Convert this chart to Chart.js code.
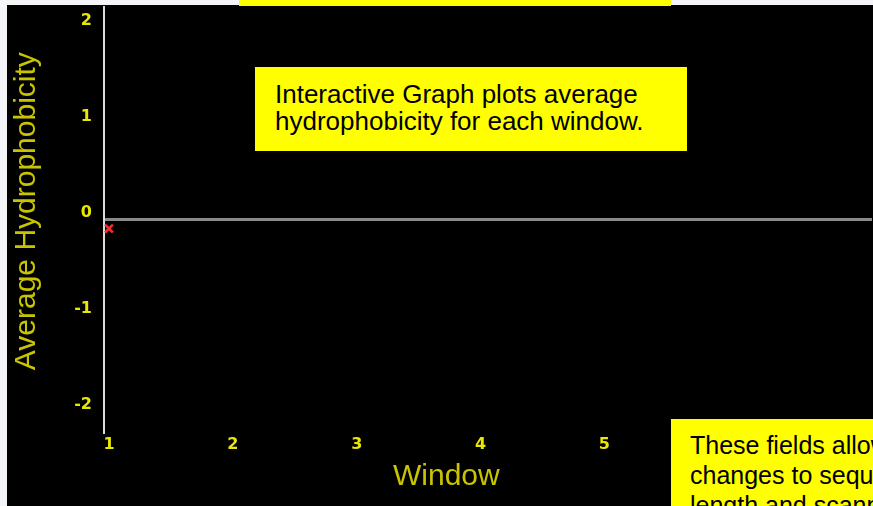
<!DOCTYPE html>
<html>
<head>
<meta charset="utf-8">
<script src="https://cdn.jsdelivr.net/npm/chart.js@4.4.0/dist/chart.umd.min.js"></script>
<style>
  html, body { margin: 0; padding: 0; width: 873px; height: 506px; overflow: hidden; background: #f4f5f9; position: relative; font-family: "Liberation Sans", Arial, sans-serif; }
  #wrap { position: absolute; left: 7px; top: 5px; width: 866px; height: 501px; background: #000; overflow: hidden; }
  canvas { display: block; position: absolute; left: 0; top: -6px; }
  .note { position: absolute; background: #ffff00; color: #000; font-family: "Liberation Sans", Arial, sans-serif; font-size: 26px; line-height: 27px; box-sizing: border-box; white-space: nowrap; overflow: hidden; }
</style>
</head>
<body>
<div id="wrap"><canvas id="c" width="873" height="507"></canvas></div>
<div class="note" style="left:239px; top:0; width:432px; height:6px;"></div>
<div class="note" style="left:255px; top:67px; width:432px; height:84px; padding:14px 0 0 20px;">Interactive Graph plots average<br>hydrophobicity for each window.</div>
<div class="note" style="left:671px; top:419px; width:260px; height:120px; padding:11px 0 0 19px; line-height:30px; font-size:25px;">These fields allow<br>changes to sequence,<br>length and scanning</div>
<script>
const windows = [1];
const avgHydrophobicity = [-0.1];
const yTickValues = [-2, -1, 0, 1, 2];
const xTickValues = [1, 2, 3, 4, 5, 6, 7];

const tickYellow = '#e8e800';
const titleYellow = '#c8c400';
const NB = '\u00a0';

new Chart(document.getElementById('c'), {
  type: 'scatter',
  data: {
    datasets: [{
      data: windows.map((w, i) => ({ x: w, y: avgHydrophobicity[i] })),
      pointStyle: 'crossRot',
      pointRadius: 5.5,
      borderColor: '#ff2a2a',
      backgroundColor: '#ff2a2a',
      borderWidth: 2.5,
      showLine: false
    }]
  },
  options: {
    responsive: false,
    animation: false,
    layout: { padding: 0 },
    plugins: { legend: { display: false }, tooltip: { enabled: false } },
    scales: {
      x: {
        type: 'linear',
        min: 0.96,
        max: 7.16,
        afterBuildTicks: s => { s.ticks = xTickValues.map(v => ({ value: v })); },
        afterFit: s => { s.height = 74; s.paddingLeft = 0; s.paddingRight = 0; },
        grid: { display: false, drawTicks: false },
        border: { display: false },
        ticks: { color: tickYellow, padding: 3, font: { family: 'DejaVu Sans', weight: 'bold', size: 16 }, maxRotation: 0, autoSkip: false },
        title: { display: true, text: 'Window' + NB.repeat(10), color: titleYellow, font: { family: 'Liberation Sans', size: 30 }, padding: { top: 0, bottom: 11 } }
      },
      y: {
        min: -2.22,
        max: 2.21,
        afterBuildTicks: s => { s.ticks = yTickValues.map(v => ({ value: v })); },
        afterFit: s => { s.width = 97; s.paddingTop = 0; s.paddingBottom = 0; },
        grid: {
          drawTicks: false,
          color: c => (c.tick && c.tick.value === 0) ? '#8a8a8a' : 'rgba(0,0,0,0)',
          lineWidth: 3
        },
        border: { display: true, color: '#dcdcdc', width: 2 },
        ticks: { color: tickYellow, padding: 12, labelOffset: -6, font: { family: 'DejaVu Sans', weight: 'bold', size: 16 } },
        title: { display: true, text: NB.repeat(2) + 'Average Hydrophobicity', color: titleYellow, font: { family: 'Liberation Sans', size: 30 }, padding: { top: 2, bottom: 0 } }
      }
    }
  }
});
</script>
</body>
</html>
